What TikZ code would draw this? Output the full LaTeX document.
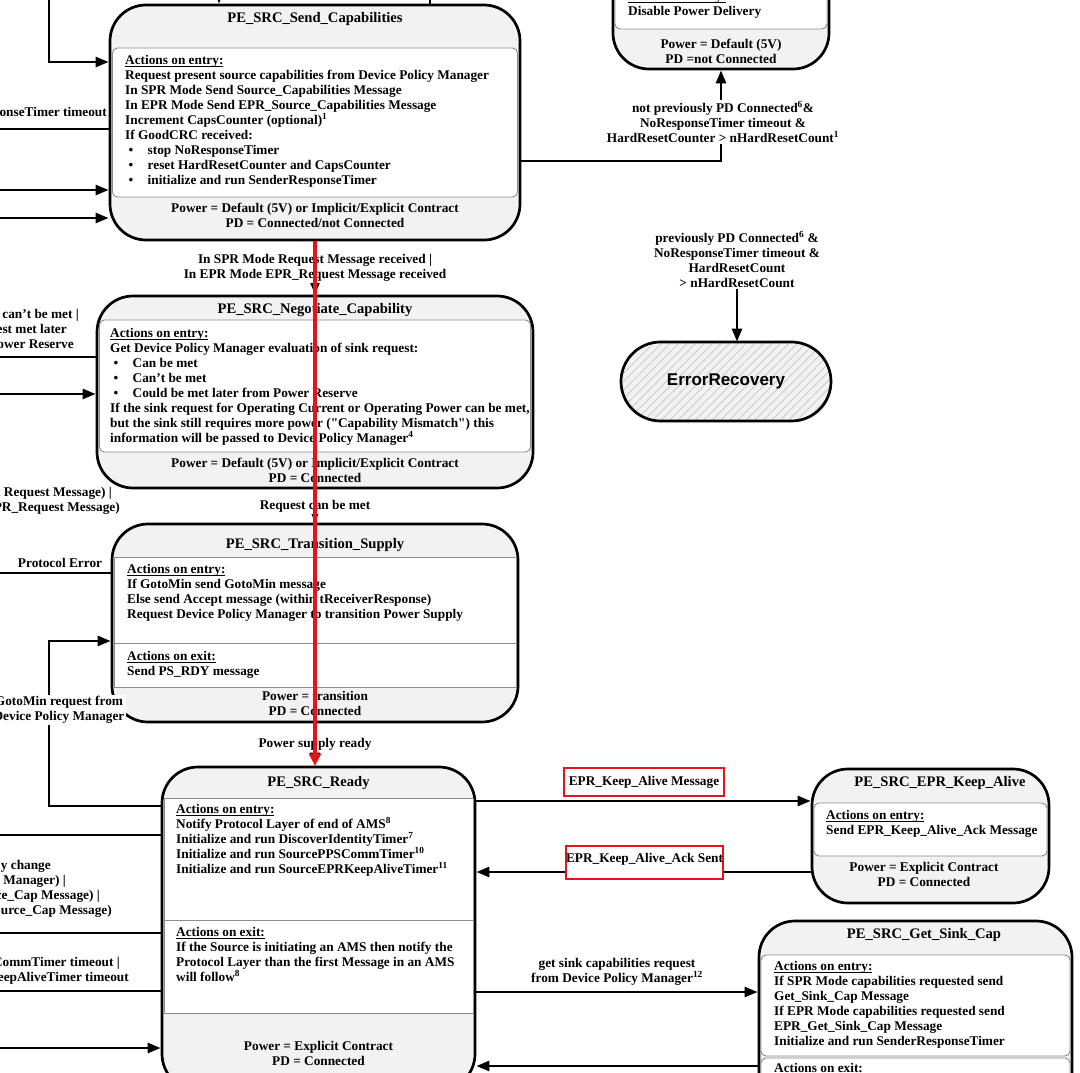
\documentclass[tikz,border=0pt]{standalone}
\usepackage{fontspec}
\setmainfont{Liberation Serif}
\newfontfamily\errfont{Liberation Sans}
\usetikzlibrary{arrows.meta,patterns.meta}
\definecolor{boxgray}{HTML}{F2F2F2}
\definecolor{secgray}{HTML}{8C8C8C}
\definecolor{hired}{HTML}{E3151B}
\definecolor{hatchgray}{HTML}{C4C4C4}
\newcommand{\bulitem}{\makebox[22.5pt][l]{\hspace{3.5pt}\textbullet}}
\newcommand{\acthead}[1]{\underline{\smash{#1}}\vphantom{A}}
\newcommand{\sdq}{\XeTeXglyph\XeTeXcharglyph"22\relax}

\begin{document}
\begin{tikzpicture}[x=1pt,y=-1pt]
\tikzstyle{every node}=[font=\fontsize{13.3pt}{15pt}\selectfont\bfseries, inner sep=0pt]
\tikzstyle{statebox}=[draw, line width=2.7pt, fill=boxgray, rounded corners=36pt]
\tikzstyle{section}=[draw=secgray, line width=0.9pt, fill=white, rounded corners=5pt]
\tikzstyle{flatsection}=[draw=secgray, line width=0.9pt, fill=white]
\tikzstyle{statetitle}=[font=\fontsize{14.6pt}{17pt}\selectfont\bfseries]
\tikzstyle{body}=[anchor=north west, align=left]
\tikzstyle{powertext}=[align=center]
\tikzstyle{lbl}=[align=center, fill=white, inner sep=1.5pt]
\tikzstyle{cutlbl}=[anchor=north east, align=right]
\tikzstyle{hilite}=[draw=hired, line width=1.3pt, fill=white]
\tikzstyle{link}=[line width=2.6pt]
\tikzstyle{arrow}=[link, -{Triangle[length=13pt,width=10pt]}]
\tikzstyle{redpath}=[draw=hired, line width=4.8pt, -{Triangle[length=12pt,width=12pt]}]
\tikzstyle{errstate}=[draw, line width=2.7pt, rounded corners=39.5pt, preaction={fill=boxgray}, pattern={Lines[angle=45,distance=6pt,line width=0.7pt]}, pattern color=hatchgray, font=\errfont\bfseries\fontsize{17pt}{20pt}\selectfont]
\useasboundingbox (0,0) rectangle (1080,1073);
\clip (0,0) rectangle (1080,1073);

\node [statebox, minimum width=216pt, minimum height=199pt] (disabled) at (721,-30.5) {};
\draw [section] (615,-130) rectangle (827,29);
\node [body] (disabledentry) at (628,-8) {\acthead{Actions on entry:}\\Disable Power Delivery};
\node [powertext] (disabledpower) at (721,51.5) {Power = Default (5V)\\PD =not Connected};

\node [statebox, minimum width=410pt, minimum height=235pt] (sendcap) at (315,122.5) {};
\draw [section] (112.5,48) rectangle (517.5,197);
\node [statetitle] (sendcaptitle) at (315,19) {PE\_SRC\_Send\_Capabilities};
\node [body] (sendcapentry) at (125,56) {\acthead{Actions on entry:}\\
Request present source capabilities from Device Policy Manager\\
In SPR Mode Send Source\_Capabilities Message\\
In EPR Mode Send EPR\_Source\_Capabilities Message\\
Increment CapsCounter (optional)\textsuperscript{1}\\
If GoodCRC received:\\
\bulitem stop NoResponseTimer\\
\bulitem reset HardResetCounter and CapsCounter\\
\bulitem initialize and run SenderResponseTimer};
\node [powertext] (sendcappower) at (315,215.5) {Power = Default (5V) or Implicit/Explicit Contract\\PD = Connected/not Connected};

\node [statebox, minimum width=436pt, minimum height=192pt] (negotiate) at (315,392) {};
\draw [section] (99.5,320) rectangle (530.5,452);
\node [statetitle] (negotiatetitle) at (315,310) {PE\_SRC\_Negotiate\_Capability};
\node [body] (negotiateentry) at (110,329) {\acthead{Actions on entry:}\\
Get Device Policy Manager evaluation of sink request:\\
\bulitem Can be met\\
\bulitem Can't be met\\
\bulitem Could be met later from Power Reserve\\
If the sink request for Operating Current or Operating Power can be met,\\
but the sink still requires more power (\sdq Capability Mismatch\sdq) this\\
information will be passed to Device Policy Manager\textsuperscript{4}};
\node [powertext] (negotiatepower) at (315,470.5) {Power = Default (5V) or Implicit/Explicit Contract\\PD = Connected};

\node [statebox, minimum width=406pt, minimum height=198pt] (transition) at (315,623) {};
\draw [flatsection] (114,557) rectangle (516,687);
\draw [flatsection] (114,643) -- (516,643);
\node [statetitle] (transitiontitle) at (315,545) {PE\_SRC\_Transition\_Supply};
\node [body] (transitionentry) at (127,565) {\acthead{Actions on entry:}\\
If GotoMin send GotoMin message\\
Else send Accept message (within tReceiverResponse)\\
Request Device Policy Manager to transition Power Supply};
\node [body] (transitionexit) at (127,652) {\acthead{Actions on exit:}\\Send PS\_RDY message};
\node [powertext] (transitionpower) at (315,703.5) {Power = transition\\PD = Connected};

\node [statebox, minimum width=313pt, minimum height=323pt] (ready) at (318.5,928.5) {};
\draw [flatsection] (164,798) rectangle (473,1013);
\draw [flatsection] (164,920) -- (473,920);
\node [statetitle] (readytitle) at (318.5,783) {PE\_SRC\_Ready};
\node [body] (readyentry) at (176,805) {\acthead{Actions on entry:}\\
Notify Protocol Layer of end of AMS\textsuperscript{8}\\
Initialize and run DiscoverIdentityTimer\textsuperscript{7}\\
Initialize and run SourcePPSCommTimer\textsuperscript{10}\\
Initialize and run SourceEPRKeepAliveTimer\textsuperscript{11}};
\node [body] (readyexit) at (176,928) {\acthead{Actions on exit:}\\
If the Source is initiating an AMS then notify the\\
Protocol Layer than the first Message in an AMS\\
will follow\textsuperscript{8}};
\node [powertext] (readypower) at (318.5,1053.5) {Power = Explicit Contract\\PD = Connected};

\node [statebox, minimum width=237pt, minimum height=134pt] (keepalive) at (930.5,836) {};
\draw [section] (814,803) rectangle (1047,856);
\node [statetitle] (keepalivetitle) at (940,783) {PE\_SRC\_EPR\_Keep\_Alive};
\node [body] (keepaliveentry) at (826,811) {\acthead{Actions on entry:}\\Send EPR\_Keep\_Alive\_Ack Message};
\node [powertext] (keepalivepower) at (924,874.5) {Power = Explicit Contract\\PD = Connected};

\node [statebox, minimum width=313pt, minimum height=259pt] (getsink) at (915.5,1050.5) {};
\draw [section] (761,955) rectangle (1070,1056);
\draw [section] (761,1058) rectangle (1070,1200);
\node [statetitle] (getsinktitle) at (924,935) {PE\_SRC\_Get\_Sink\_Cap};
\node [body] (getsinkentry) at (774,962) {\acthead{Actions on entry:}\\
If SPR Mode capabilities requested send\\
Get\_Sink\_Cap Message\\
If EPR Mode capabilities requested send\\
EPR\_Get\_Sink\_Cap Message\\
Initialize and run SenderResponseTimer};
\node [body] (getsinkexit) at (774,1064) {\acthead{Actions on exit:}};

\node [errstate, minimum width=210pt, minimum height=79pt] (errorrec) at (726,381.5) {ErrorRecovery};

\node [lbl] (nohardlbl) at (723,122) {not previously PD Connected\textsuperscript{6}\&\\NoResponseTimer timeout \&\\HardResetCounter > nHardResetCount\textsuperscript{1}};
\node [lbl] (errlbl) at (737,259.5) {previously PD Connected\textsuperscript{6} \&\\NoResponseTimer timeout \&\\HardResetCount\\> nHardResetCount};
\node [anchor=east] (sendrsplbl) at (107,112) {onseTimer timeout};
\node [cutlbl] (cantlbl) at (79,309) {t can't be met |\\est met later\rule{12pt}{0pt}\\ower Reserve\rule{5pt}{0pt}};
\node [cutlbl] (reqlbl) at (120,487) {t Request Message) |\rule{8pt}{0pt}\\PR\_Request Message)};
\node [] (protolbl) at (60,563) {Protocol Error};
\node [cutlbl] (chglbl) at (112,860) {y change\rule{61pt}{0pt}\\y Manager) |\rule{46pt}{0pt}\\ce\_Cap Message) |\rule{12pt}{0pt}\\ource\_Cap Message)};
\node [cutlbl] (timerlbl) at (129,957) {CommTimer timeout |\rule{9pt}{0pt}\\eepAliveTimer timeout};

\coordinate (topin) at (49,-5);
\coordinate (topdown) at (219,-5);
\coordinate (topup) at (430,-5);
\coordinate (sc1) at (-5,129);
\coordinate (sc2) at (-5,190);
\coordinate (sc3) at (-5,218);
\coordinate (ng1) at (-5,357);
\coordinate (ng2) at (-5,394);
\coordinate (ts1) at (-5,573);
\coordinate (gmbend) at (49,641);
\coordinate (rd1) at (-5,835);
\coordinate (rd2) at (-5,933);
\coordinate (rd3) at (-5,991);
\coordinate (rd4) at (-5,1048);

\draw [arrow] (topin) |- (sendcap.west |- 0,62);
\draw [arrow] (topdown) -- (topdown |- sendcap.north);
\draw [link] (topup |- sendcap.north) -- (topup);
\draw [link] (sendcap.west |- sc1) -- (sc1);
\draw [arrow] (sc2) -- (sendcap.west |- sc2);
\draw [arrow] (sc3) -- (sendcap.west |- sc3);
\draw [link] (sendcap.east |- 0,161) -| (nohardlbl.south -| disabled.south);
\draw [arrow] (nohardlbl.north -| disabled.south) -- (disabled.south);
\draw [arrow] (errlbl.south) -- (errlbl.south |- errorrec.north);
\draw [arrow] (sendcap.south) -- node [lbl] (splbl) {In SPR Mode Request Message received |\\In EPR Mode EPR\_Request Message received} (negotiate.north);
\draw [link] (negotiate.west |- ng1) -- (ng1);
\draw [arrow] (ng2) -- (negotiate.west |- ng2);
\draw [arrow] (negotiate.south) -- node [lbl] (canmetlbl) {Request can be met} (transition.north);
\draw [link] (transition.west |- ts1) -- (ts1);
\draw [arrow] (ready.west |- 0,806) -| (gmbend) -- (transition.west |- gmbend);
\node [lbl] (gotolbl) at (59,710) {GotoMin request from\\Device Policy Manager};
\draw [arrow] (transition.south) -- node [lbl] (psrdylbl) {Power supply ready} (transition.south |- ready.north);
\draw [link] (ready.west |- rd1) -- (rd1);
\draw [link] (ready.west |- rd2) -- (rd2);
\draw [link] (ready.west |- rd3) -- (rd3);
\draw [arrow] (rd4) -- (ready.west |- rd4);
\draw [arrow] (ready.east |- 0,801) -- (keepalive.west |- 0,801);
\draw [arrow] (keepalive.west |- 0,872) -- (ready.east |- 0,872);
\node [hilite, minimum width=160pt, minimum height=28pt] (kamsglbl) at (644,782) {EPR\_Keep\_Alive Message};
\node [hilite, minimum width=157pt, text height=16.5pt, text depth=16.5pt] (kaacklbl) at (644.5,862.5) {EPR\_Keep\_Alive\_Ack Sent};
\draw [arrow] (ready.east |- 0,992) -- node [above=5pt, align=center] (sinklbl) {get sink capabilities request\\from Device Policy Manager\textsuperscript{12}} (getsink.west |- 0,992);
\draw [arrow] (getsink.west |- 0,1066) -- (ready.east |- 0,1066);
\draw [redpath] (sendcap.south) -- (sendcap.south |- ready.north);
\end{tikzpicture}
\end{document}
